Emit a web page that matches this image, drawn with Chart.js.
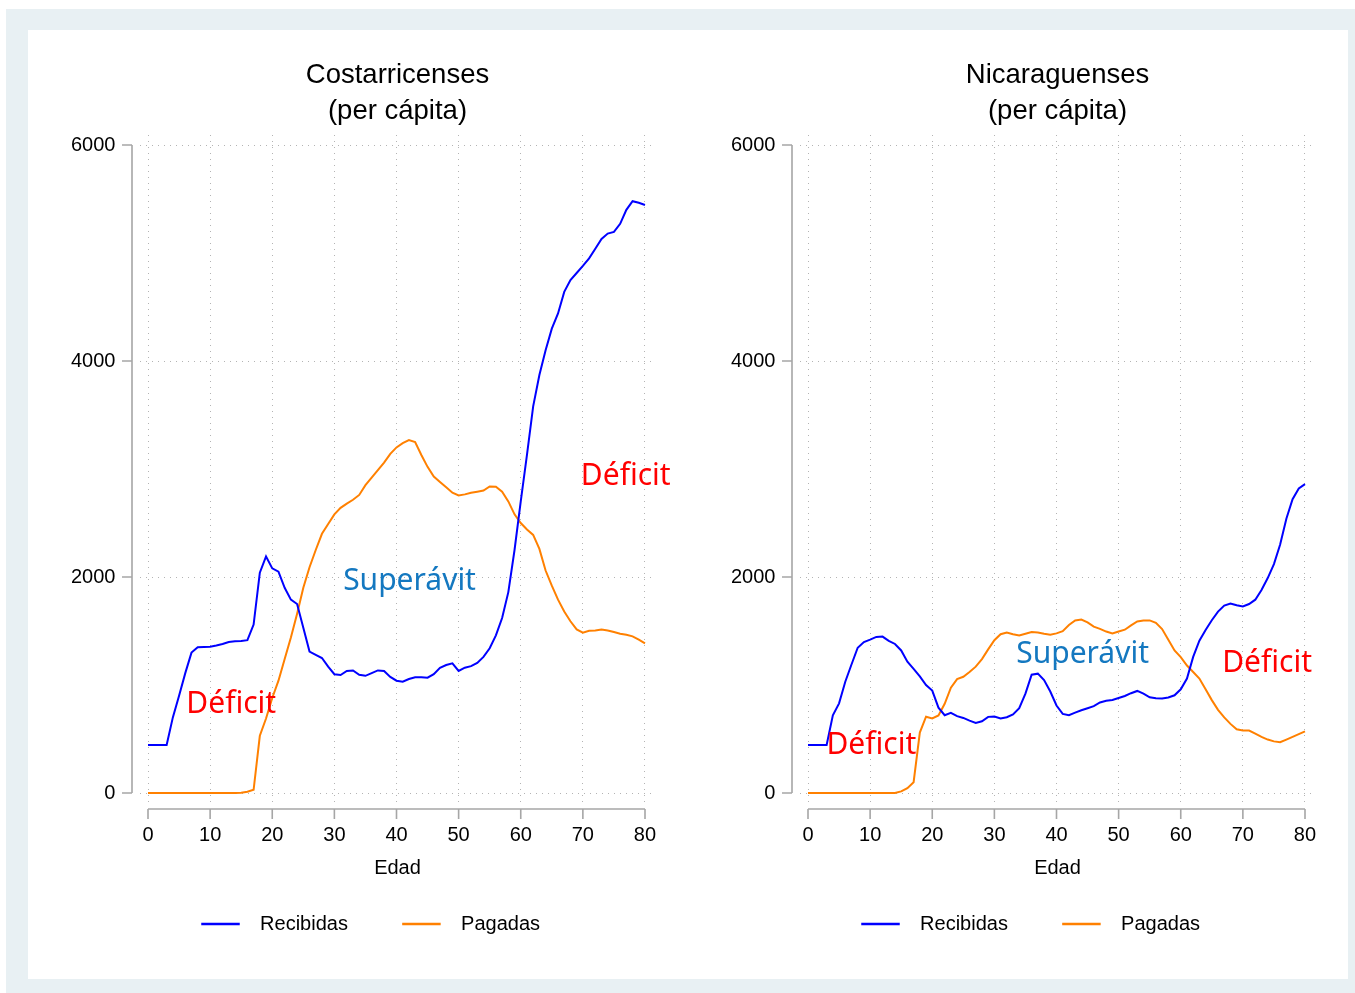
<!DOCTYPE html>
<html>
<head>
<meta charset="utf-8">
<script src="https://cdn.jsdelivr.net/npm/chart.js@4.4.1/dist/chart.umd.min.js"></script>
<style>
  body { margin: 0; background: #fff; }
  #frame { position: absolute; left: 6px; top: 9px; width: 1349px; height: 984px; background: #e8f0f3; }
  #panel { position: absolute; left: 22px; top: 21px; width: 1320px; height: 949px; background: #fff; }
  canvas { position: absolute; top: 0; }
</style>
</head>
<body>
<div id="frame"><div id="panel">
  <canvas id="costaChart" width="660" height="949" style="left:0px"></canvas>
  <canvas id="nicaChart" width="660" height="949" style="left:660px"></canvas>
</div></div>
<script>
const edades = [0,1,2,3,4,5,6,7,8,9,10,11,12,13,14,15,16,17,18,19,20,21,22,23,24,25,26,27,28,29,30,31,32,33,34,35,36,37,38,39,40,41,42,43,44,45,46,47,48,49,50,51,52,53,54,55,56,57,58,59,60,61,62,63,64,65,66,67,68,69,70,71,72,73,74,75,76,77,78,79,80];
const xTicks = [0, 10, 20, 30, 40, 50, 60, 70, 80];
const yTicks = [0, 2000, 4000, 6000];

const costaRecibidas = [444,444,444,444,700,900,1110,1300,1350,1352,1355,1365,1380,1398,1404,1408,1415,1560,2040,2190,2080,2050,1900,1790,1750,1530,1310,1280,1250,1170,1100,1092,1130,1135,1095,1085,1110,1135,1130,1075,1040,1030,1055,1072,1072,1068,1100,1160,1185,1200,1130,1160,1175,1205,1260,1340,1460,1620,1860,2250,2700,3130,3580,3870,4100,4300,4440,4640,4750,4815,4880,4950,5040,5130,5180,5195,5270,5400,5480,5465,5445];
const costaPagadas = [0,0,0,0,0,0,0,0,0,0,0,0,0,0,0,3,12,30,530,690,880,1040,1240,1440,1660,1900,2090,2250,2400,2490,2580,2640,2680,2715,2760,2850,2920,2990,3060,3140,3200,3240,3268,3250,3130,3020,2930,2880,2830,2780,2755,2765,2780,2790,2800,2838,2835,2790,2700,2580,2500,2440,2390,2260,2060,1920,1790,1680,1590,1515,1485,1503,1505,1513,1505,1490,1475,1465,1450,1420,1385];
const nicaRecibidas = [444,444,444,444,720,830,1030,1190,1345,1398,1420,1445,1448,1408,1380,1320,1215,1150,1080,1000,948,790,720,742,712,695,670,648,664,705,708,690,702,728,785,920,1095,1105,1045,940,810,732,720,744,766,785,804,838,854,862,880,898,924,945,920,886,878,876,884,905,960,1060,1260,1410,1510,1600,1680,1735,1755,1738,1728,1750,1790,1880,1990,2120,2300,2540,2720,2820,2860];
const nicaPagadas = [0,0,0,0,0,0,0,0,0,0,0,0,0,0,0,15,44,100,560,706,690,718,826,975,1055,1076,1120,1170,1240,1330,1415,1470,1485,1470,1458,1475,1490,1486,1475,1466,1478,1498,1555,1598,1606,1580,1540,1520,1495,1478,1495,1512,1552,1588,1598,1598,1575,1518,1420,1320,1258,1180,1120,1060,960,860,770,700,640,590,578,578,550,520,495,478,470,495,520,545,570];

// textos dentro del gráfico: edad y valor donde va cada uno
const costaNotas = ['Déficit', 'Superávit', 'Déficit'];
const costaNotasEdad = [13.4, 42.1, 76.9];
const costaNotasValor = [741, 1880, 2852];
const nicaNotas = ['Déficit', 'Superávit', 'Déficit'];
const nicaNotasEdad = [10.2, 44.2, 73.9];
const nicaNotasValor = [361, 1208, 1120];
const notaColores = ['#ff0000', '#1478c0', '#ff0000'];

const FONT = "'Liberation Sans', Arial, sans-serif";
const AZUL = '#0000ff';
const NARANJA = '#ff8000';

const notesPlugin = {
  id: 'notes',
  afterDatasetsDraw(chart, args, opts) {
    const {ctx, scales: {x, y}} = chart;
    ctx.save();
    ctx.font = "30px 'Noto Sans', sans-serif";
    ctx.textAlign = 'center';
    ctx.textBaseline = 'alphabetic';
    opts.texts.forEach(function(t, i) {
      ctx.fillStyle = notaColores[i];
      ctx.fillText(t, x.getPixelForValue(opts.ages[i]), y.getPixelForValue(opts.values[i]));
    });
    ctx.restore();
  }
};

// ejes separados del área de datos, como en el original
const axisLines = {
  id: 'axisLines',
  afterDraw(chart) {
    const {ctx, chartArea, scales: {x, y}} = chart;
    const ax = chartArea.left - 8;
    const ay = chartArea.bottom + 7;
    ctx.save();
    ctx.strokeStyle = '#a6a6a6';
    ctx.lineWidth = 1.6;
    ctx.beginPath();
    ctx.moveTo(ax, y.getPixelForValue(yTicks[0]));
    ctx.lineTo(ax, y.getPixelForValue(yTicks[yTicks.length - 1]));
    yTicks.forEach(function(v) {
      const p = y.getPixelForValue(v);
      ctx.moveTo(ax - 10, p);
      ctx.lineTo(ax, p);
    });
    ctx.moveTo(x.getPixelForValue(xTicks[0]), ay);
    ctx.lineTo(x.getPixelForValue(xTicks[xTicks.length - 1]), ay);
    xTicks.forEach(function(v) {
      const p = x.getPixelForValue(v);
      ctx.moveTo(p, ay);
      ctx.lineTo(p, ay + 10);
    });
    ctx.stroke();
    ctx.restore();
  }
};

function makeChart(canvasId, titulo, recibidas, pagadas, notas, notasEdad, notasValor) {
  const canvas = document.getElementById(canvasId);
  return new Chart(canvas, {
    type: 'line',
    data: {
      datasets: [{
        label: 'Recibidas',
        data: edades.map(function(e, i) { return {x: e, y: recibidas[i]}; }),
        borderColor: AZUL,
        backgroundColor: AZUL,
        borderWidth: 2,
        pointRadius: 0,
        tension: 0
      }, {
        label: 'Pagadas',
        data: edades.map(function(e, i) { return {x: e, y: pagadas[i]}; }),
        borderColor: NARANJA,
        backgroundColor: NARANJA,
        borderWidth: 2,
        pointRadius: 0,
        tension: 0
      }]
    },
    options: {
      responsive: false,
      animation: false,
      layout: { padding: { left: 59, right: 33, top: 0, bottom: 35 } },
      scales: {
        x: {
          type: 'linear',
          min: -1.288,
          max: 81.61,
          afterBuildTicks: function(scale) { scale.ticks = xTicks.map(function(v) { return {value: v}; }); },
          afterFit: function(scale) { scale.height = 57; },
          grid: { color: '#b4b4b4', lineWidth: 1, drawTicks: false },
          border: { display: false, dash: [1, 5] },
          ticks: {
            autoSkip: false, maxRotation: 0, padding: 21, color: '#000',
            font: { family: FONT, size: 20 },
            callback: function(v) { return String(v); }
          },
          title: {
            display: true, text: 'Edad', color: '#000',
            font: { family: FONT, size: 20 },
            padding: { top: 0, bottom: -21 }
          }
        },
        y: {
          type: 'linear',
          min: -83.3,
          max: 6092.6,
          afterBuildTicks: function(scale) { scale.ticks = yTicks.map(function(v) { return {value: v}; }); },
          afterFit: function(scale) { scale.width = 53; },
          grid: { color: '#b4b4b4', lineWidth: 1, drawTicks: false },
          border: { display: false, dash: [1, 5] },
          ticks: {
            // etiquetas alineadas a la derecha, 24px a la izquierda del área de datos
            mirror: true, crossAlign: 'far', padding: -69, color: '#000',
            font: { family: FONT, size: 20 },
            callback: function(v) { return String(v); }
          }
        }
      },
      plugins: {
        title: {
          display: true,
          fullSize: false,
          text: titulo,
          color: '#000',
          font: { family: FONT, size: 27.5, weight: 'normal', lineHeight: '36px' },
          padding: { top: 27, bottom: 6 }
        },
        legend: {
          position: 'bottom',
          labels: {
            color: '#000',
            font: { family: FONT, size: 20 },
            boxWidth: 37,
            boxHeight: 1,
            padding: 55,
            generateLabels: function(chart) {
              return chart.data.datasets.map(function(ds, i) {
                return {
                  text: '  ' + ds.label,
                  fillStyle: ds.borderColor,
                  strokeStyle: ds.borderColor,
                  lineWidth: 1.5,
                  fontColor: '#000',
                  hidden: false,
                  datasetIndex: i
                };
              });
            }
          }
        },
        tooltip: { enabled: false },
        notes: { texts: notas, ages: notasEdad, values: notasValor }
      }
    },
    plugins: [notesPlugin, axisLines]
  });
}

window.addEventListener('load', function() {
  makeChart('costaChart', ['Costarricenses', '(per cápita)'], costaRecibidas, costaPagadas, costaNotas, costaNotasEdad, costaNotasValor);
  makeChart('nicaChart', ['Nicaraguenses', '(per cápita)'], nicaRecibidas, nicaPagadas, nicaNotas, nicaNotasEdad, nicaNotasValor);
});
</script>
</body>
</html>
